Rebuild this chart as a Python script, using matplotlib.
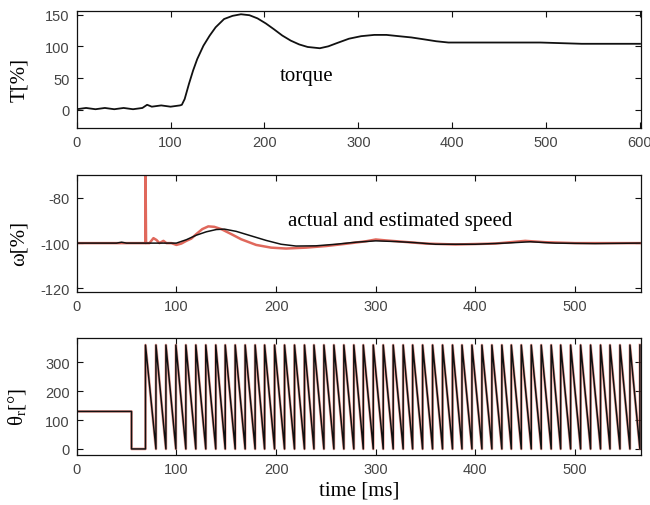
import matplotlib
matplotlib.use('Agg')
import matplotlib.pyplot as plt
import numpy as np

# torque [%]
torque_t = [0, 10, 20, 30, 40, 50, 60, 70, 75, 80, 90, 100, 110, 112, 115, 119.6, 124, 128.4,
            135, 141.7, 148, 157, 166, 175, 184, 192.6, 201.5, 210, 219, 228, 237, 246, 259,
            268, 277, 290, 303, 317, 330, 343, 356.5, 370, 383, 396, 414, 449.5, 494, 538, 600]
torque_v = [1, 3, 1, 3, 1, 3, 1, 3, 8, 5, 7, 5, 7, 8, 17, 41, 62, 80,
            101, 117, 130, 143, 148, 150.5, 149, 144, 136, 127, 117, 109, 103, 99, 97,
            100, 105, 112, 116, 118, 118, 116, 114, 111, 108, 106, 106, 106, 106, 104, 104]

# actual speed [%]
speed_t = [0, 40, 45, 50, 100, 110, 120, 130, 140, 148, 160, 175, 190, 205, 220, 240, 260,
           280, 300, 320, 340, 360, 400, 430, 455, 480, 520, 565]
speed_v = [-100, -100, -99.6, -100, -100, -98.5, -96.5, -95, -94, -93.8, -94.8, -96.8, -98.8,
           -100.5, -101.3, -101.2, -100.5, -99.6, -99, -99.3, -99.8, -100.5, -100.5, -100,
           -99.4, -100, -100.2, -100]

# estimated speed [%]
est_t = [0, 69, 69, 69.6, 73, 77, 80, 83, 87, 90, 95, 100, 105, 110, 115, 120, 126, 132, 138,
         145, 155, 165, 180, 195, 210, 230, 250, 270, 290, 300, 310, 330, 350, 380, 420, 450,
         470, 500, 565]
est_v = [-100, -100, -65, -100, -100, -97.8, -98.6, -100, -99, -100, -100, -100.8, -100.2, -99,
         -98, -96, -93.8, -92.6, -92.8, -93.8, -96, -98.3, -100.8, -102, -102.4, -102, -101.3,
         -100.3, -99.2, -98.4, -98.8, -99.5, -100.2, -100.6, -100.2, -99, -99.6, -100, -100]

# rotor angle: initial hold, then wrap-around instants of the sawtooth [ms]
angle_hold_v = 130
angle_drop_t = 55
angle_resets = [69, 79.5, 89.5, 99.5, 109.5, 119.5, 129.5, 139.5, 149, 159, 169, 179, 188.5,
                198.5, 208.5, 218.5, 228.5, 238, 248, 258, 268, 278, 287.5, 297.5, 307.5, 317.5,
                327.5, 337, 347, 357, 367, 377, 386.5, 396.5, 406.5, 416.5, 426.5, 436, 446, 456,
                466, 476, 485.5, 495.5, 505.5, 515.5, 525.5, 535, 545, 555, 565]
angle_top = 360

ang_t = [0, angle_drop_t, angle_drop_t]
ang_v = [angle_hold_v, angle_hold_v, 0]
for i, r in enumerate(angle_resets):
    ang_t += [r, r]
    ang_v += [0, angle_top]
    if i + 1 < len(angle_resets):
        ang_t.append(angle_resets[i + 1])
        ang_v.append(0)

plt.rcParams['font.family'] = ['Liberation Sans', 'DejaVu Sans']
plt.rcParams['axes.unicode_minus'] = False
serif = ['Liberation Serif', 'DejaVu Serif']
black = '#111111'
red = '#e0685c'

fig = plt.figure(figsize=(6.5, 5.06), dpi=100)
left, width, height = 0.118, 0.868, 0.231
ax1 = fig.add_axes([left, 0.7445, width, height])
ax2 = fig.add_axes([left, 0.4215, width, height])
ax3 = fig.add_axes([left, 0.0988, width, height])

ax1.plot(torque_t, torque_v, color=black, lw=1.3)
ax1.set_xlim(0, 601)
ax1.set_ylim(-29, 155)
ax1.set_xticks(range(0, 601, 100))
ax1.set_yticks([0, 50, 100, 150])
ax1.text(245, 54, 'torque', family=serif, fontsize=15, ha='center', va='center')
ax1.set_ylabel('T[%]', family=serif, fontsize=15)

ax2.plot(est_t, est_v, color=red, lw=1.8)
ax2.plot(speed_t, speed_v, color=black, lw=1.1)
ax2.set_xlim(0, 566)
ax2.set_ylim(-121.5, -69.8)
ax2.set_xticks(range(0, 501, 100))
ax2.set_yticks([-120, -100, -80])
ax2.text(325, -89.9, 'actual and estimated speed', family=serif, fontsize=15,
         ha='center', va='center')
ax2.set_ylabel('ω[%]', family=serif, fontsize=15)

ax3.plot(ang_t, ang_v, color=red, lw=2.0, alpha=0.6)
ax3.plot(ang_t, ang_v, color=black, lw=1.1)
ax3.set_xlim(0, 566)
ax3.set_ylim(-21, 384)
ax3.set_xticks(range(0, 501, 100))
ax3.set_yticks([0, 100, 200, 300])
ax3.set_ylabel(r'θ$_\mathregular{r}$[°]', family=serif, fontsize=15)
ax3.set_xlabel('time [ms]', family=serif, fontsize=15, labelpad=3)

for ax in (ax1, ax2, ax3):
    ax.tick_params(direction='in', length=4, width=0.8, top=True, right=True,
                   labelsize=10.5, labelcolor='#444444', pad=5, color=black)
    for s in ax.spines.values():
        s.set_color(black)
        s.set_linewidth(0.9)
    ax.yaxis.set_label_coords(-0.085, 0.42)

fig.savefig('out.png', dpi=100)
